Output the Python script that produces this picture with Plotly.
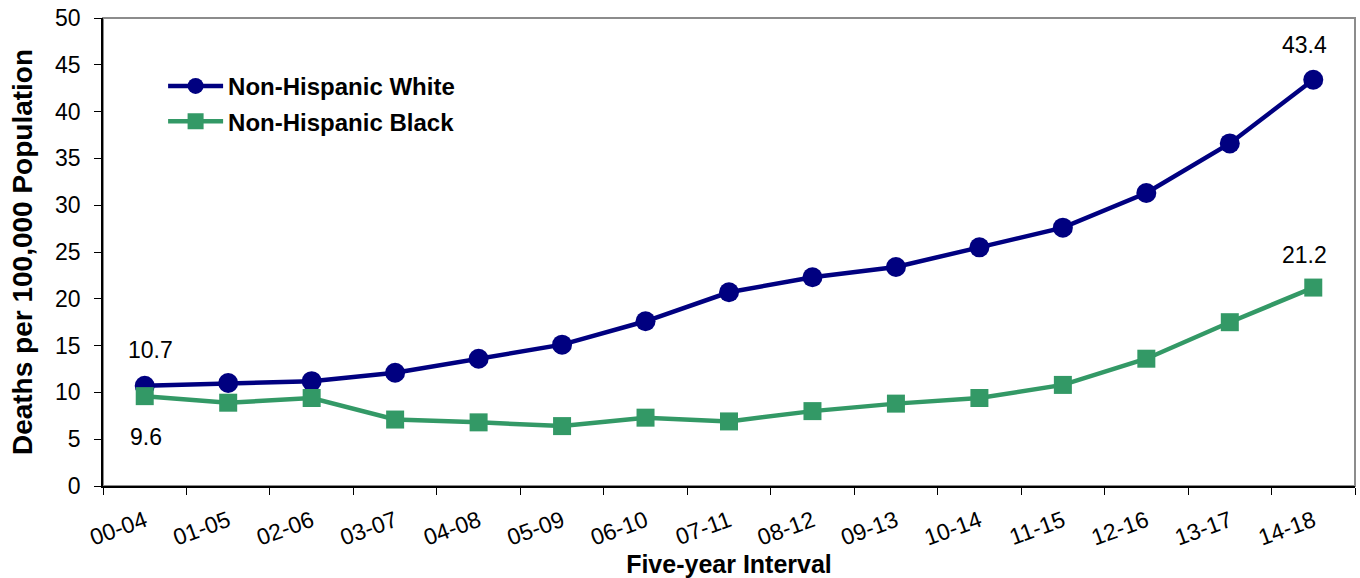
import plotly.graph_objects as go

categories = ["00-04", "01-05", "02-06", "03-07", "04-08", "05-09", "06-10", "07-11",
              "08-12", "09-13", "10-14", "11-15", "12-16", "13-17", "14-18"]
white = [10.7, 11.0, 11.2, 12.1, 13.6, 15.1, 17.6, 20.7, 22.3, 23.4, 25.5, 27.6, 31.3, 36.6, 43.4]
black = [9.6, 8.9, 9.4, 7.1, 6.8, 6.4, 7.3, 6.9, 8.0, 8.8, 9.4, 10.8, 13.6, 17.5, 21.2]
y_ticks = list(range(0, 51, 5))

NAVY = "#000080"
GREEN = "#339966"
FONT = "Liberation Sans, Arial, sans-serif"

fig = go.Figure()
fig.add_trace(go.Scatter(
    x=categories, y=white, name="Non-Hispanic White", mode="lines+markers", legendgroup="w",
    line=dict(color=NAVY, width=4.5), marker=dict(symbol="circle", size=20, color=NAVY),
))
fig.add_trace(go.Scatter(
    x=categories, y=black, name="Non-Hispanic Black", mode="lines+markers", legendgroup="b",
    line=dict(color=GREEN, width=4.5), marker=dict(symbol="square", size=18, color=GREEN),
))

# (category, value, xshift, yshift)
ann = [
    (categories[0], white[0], 6, 36),
    (categories[-1], white[-1], -9, 35),
    (categories[-1], black[-1], -9, 33),
    (categories[0], black[0], 1, -41),
]
for x, y, xs, ys in ann:
    fig.add_annotation(x=x, y=y, text=f"{y:.1f}", showarrow=False, xshift=xs, yshift=ys,
                       font=dict(family=FONT, size=23, color="black"))

fig.add_shape(type="rect", xref="x domain", yref="y domain", x0=0, x1=1, y0=0, y1=1,
              line=dict(color="#8c8c8c", width=2), layer="below")

fig.update_layout(
    width=1360, height=578, autosize=False,
    margin=dict(l=103, r=5, t=18, b=92),
    paper_bgcolor="white", plot_bgcolor="white",
    font=dict(family=FONT, color="black"),
    showlegend=True,
    legend=dict(x=0.048, y=0.902, xanchor="left", yanchor="top", bgcolor="rgba(0,0,0,0)",
                font=dict(family=FONT, size=24, color="black", weight="bold"),
                itemwidth=55, traceorder="grouped", tracegroupgap=1),
)
fig.update_xaxes(
    type="category", categoryorder="array", categoryarray=categories, range=[-0.5, len(categories) - 0.5],
    tickson="boundaries", ticks="outside", ticklen=7, tickcolor="black", automargin=False,
    showline=True, linecolor="black", linewidth=1.5, showgrid=False, zeroline=False,
    tickangle=-20, tickfont=dict(family=FONT, size=23), ticklabelstandoff=11,
    title=dict(text="Five-year Interval", font=dict(family=FONT, size=25, weight="bold"), standoff=7),
)
fig.update_yaxes(
    range=[0, 50], tickvals=y_ticks, ticks="outside", ticklen=7, tickcolor="black", automargin=False,
    showline=True, linecolor="black", linewidth=1.5, showgrid=False, zeroline=False,
    tickfont=dict(family=FONT, size=23), ticklabelstandoff=9,
    title=dict(text="Deaths per 100,000 Population", font=dict(family=FONT, size=28, weight="bold"), standoff=14),
)

fig.write_html(
    "out.html",
    config={"responsive": False, "displayModeBar": False},
    post_script="document.body.style.margin='0';document.body.style.overflow='hidden';",
)
